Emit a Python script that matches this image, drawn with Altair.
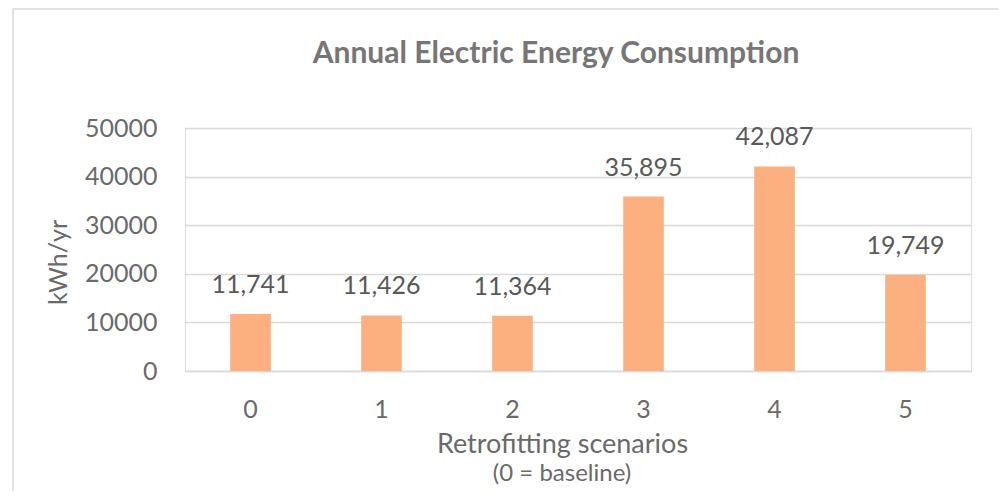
import altair as alt
import pandas as pd

scenarios = ["0", "1", "2", "3", "4", "5"]
consumption = [11741, 11426, 11364, 35895, 42087, 19749]
title_text = "Annual Electric Energy Consumption"
x_title = "Retrofitting scenarios"
x_subtitle = "(0 = baseline)"
y_title = "kWh/yr"

df = pd.DataFrame({"scenario": scenarios, "kwh": consumption})

FONT = "Lato"
GRAY = "#595959"
LGRAY = "#6A6A6A"
TGRAY = "#767676"
BAR = "#FCB07F"
GRID = "#D9D9D9"

W, H = 786, 243

base = alt.Chart(df)

bars = base.mark_bar(color=BAR).encode(
    x=alt.X(
        "scenario:N",
        sort=scenarios,
        scale=alt.Scale(paddingInner=0.69, paddingOuter=0.345),
        axis=alt.Axis(
            title=x_title,
            labelAngle=0,
            labelFontSize=25,
            labelColor=LGRAY,
            labelFont=FONT,
            labelBaseline="alphabetic",
            labelPadding=46,
            ticks=False,
            tickSize=0,
            domain=True,
            domainColor=GRID,
            domainWidth=1.5,
            titleFont=FONT,
            titleFontSize=27,
            titleFontWeight="normal",
            titleColor=LGRAY,
            titleX=377,
            titleY=81,
            titleAlign="center",
            titleBaseline="alphabetic",
        ),
    ),
    y=alt.Y(
        "kwh:Q",
        scale=alt.Scale(domain=[0, 50000], nice=False),
        axis=alt.Axis(
            title=y_title,
            values=[0, 10000, 20000, 30000, 40000, 50000],
            format="d",
            labelFontSize=25,
            labelColor=LGRAY,
            labelFont=FONT,
            labelPadding=28,
            ticks=False,
            tickSize=0,
            domain=False,
            grid=True,
            gridColor=GRID,
            gridWidth=1.5,
            titleFont=FONT,
            titleFontSize=25,
            titleFontWeight="normal",
            titleColor=LGRAY,
            titleX=-127,
            titleY=134,
            titleAngle=-90,
            titleAlign="center",
            titleBaseline="middle",
        ),
    ),
)

labels = base.mark_text(
    font=FONT, fontSize=25, color=GRAY, baseline="alphabetic", dy=-21
).encode(
    x=alt.X("scenario:N", sort=scenarios),
    y=alt.Y("kwh:Q"),
    text=alt.Text("kwh:Q", format=","),
)

subtitle = alt.Chart(pd.DataFrame({"t": [x_subtitle]})).mark_text(
    font=FONT, fontSize=24, color=LGRAY, baseline="alphabetic", align="center"
).encode(
    text="t:N",
    x=alt.value(377),
    y=alt.value(353),
)

title = alt.Chart(pd.DataFrame({"t": [title_text]})).mark_text(
    font=FONT, fontSize=30, fontWeight="bold", color=TGRAY,
    baseline="alphabetic", align="center"
).encode(
    text="t:N",
    x=alt.value(371),
    y=alt.value(-65),
)

border = alt.Chart(pd.DataFrame({"b": [0]})).mark_rect(
    fill=None, fillOpacity=0, stroke=GRID, strokeWidth=1.5
).encode(
    x=alt.value(-172),
    x2=alt.value(815),
    y=alt.value(-119),
    y2=alt.value(420),
)

chart = (
    alt.layer(border, bars, labels, subtitle, title)
    .properties(
        width=W,
        height=H,
        padding={"left": 177, "top": 120, "right": 27, "bottom": 120},
        autosize=alt.AutoSizeParams(type="none"),
    )
    .configure_view(stroke=None)
    .configure(background="white")
)

chart.save("out.html", embed_options={"renderer": "svg", "actions": False})
